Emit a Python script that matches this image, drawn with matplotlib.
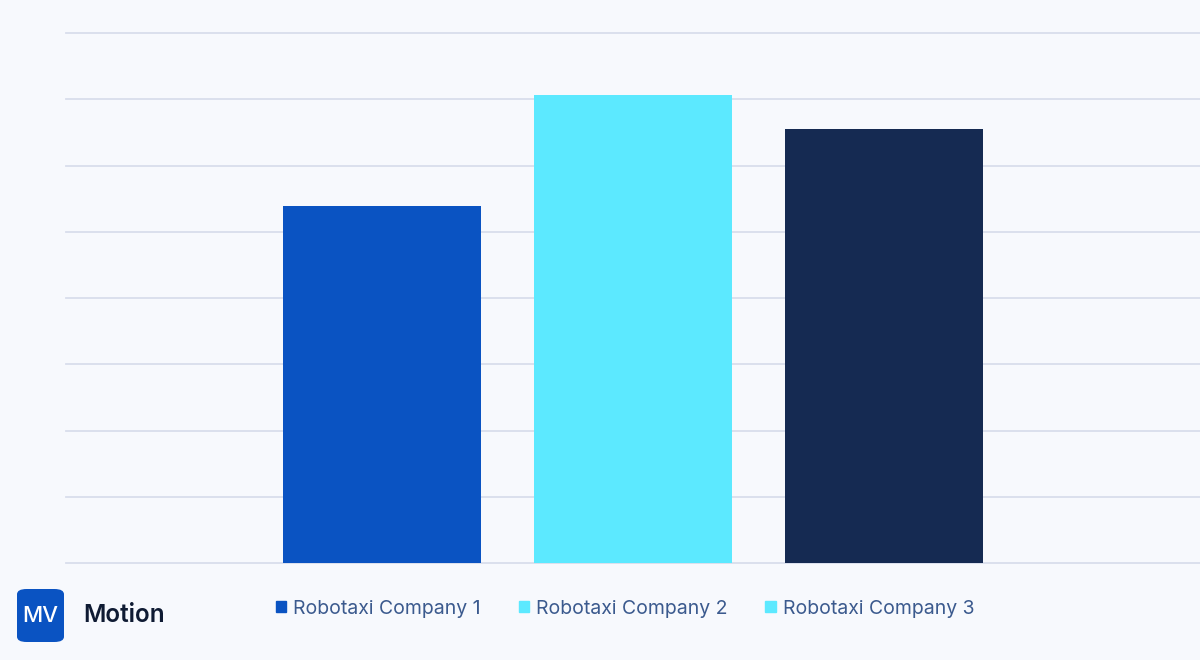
import matplotlib.pyplot as plt
from matplotlib.patches import Patch, FancyBboxPatch

# chart data
companies = ["Robotaxi Company 1", "Robotaxi Company 2", "Robotaxi Company 3"]
values = [5.39, 7.06, 6.55]
bar_colors = ["#0A53C2", "#5CE9FF", "#152A52"]
# the source legend shows company 3 in cyan too
legend_colors = ["#0A53C2", "#5CE9FF", "#5CE9FF"]
y_ticks = [0, 1, 2, 3, 4, 5, 6, 7, 8]

bg = "#F7F9FD"
plt.rcParams['font.family'] = ['Inter', 'DejaVu Sans']

fig = plt.figure(figsize=(12, 6.6), dpi=100)
fig.patch.set_facecolor(bg)

W, H = 1200, 660
ax = fig.add_axes([66 / W, 1 - 563.3 / H, (1200 - 66) / W, (563.3 - 33) / H])
ax.set_facecolor(bg)

x = range(len(companies))
ax.bar(x, values, width=0.79, color=bar_colors, zorder=3)

ax.set_xlim(-1.259, 3.259)
ax.set_ylim(0, 8)
ax.set_yticks(y_ticks)
ax.set_xticks([])
ax.tick_params(axis='y', length=0, labelleft=False)
ax.grid(axis='y', color="#D9DEEC", lw=1.3, zorder=0)
for gl in ax.get_ygridlines():
    gl.set_clip_on(False)
for s in ax.spines.values():
    s.set_visible(False)

# legend
handles = [Patch(color=c) for c in legend_colors]
leg = fig.legend(handles, companies, loc='center', bbox_to_anchor=(625 / W, 1 - 608.5 / H),
                 ncol=3, frameon=False, fontsize=14, handlelength=0.55,
                 handleheight=0.55, handletextpad=0.35, columnspacing=1.95)
for t in leg.get_texts():
    t.set_color("#3B5A8E")

# logo
logo = FancyBboxPatch((17 / W, 1 - 642 / H), 47 / W, 53 / H,
                      boxstyle="round,pad=0,rounding_size=0.008",
                      transform=fig.transFigure, facecolor="#0A53C2",
                      edgecolor="none")
fig.patches.append(logo)
fig.text(40.5 / W, 1 - 616 / H, "MV", color="white", fontsize=16,
         fontweight='medium', ha='center', va='center')
fig.text(83 / W, 1 - 616 / H, "Motion", color="#0F1B33", fontsize=17.5,
         fontweight='semibold', ha='left', va='center')

fig.savefig("out.png", dpi=100, facecolor=bg)
